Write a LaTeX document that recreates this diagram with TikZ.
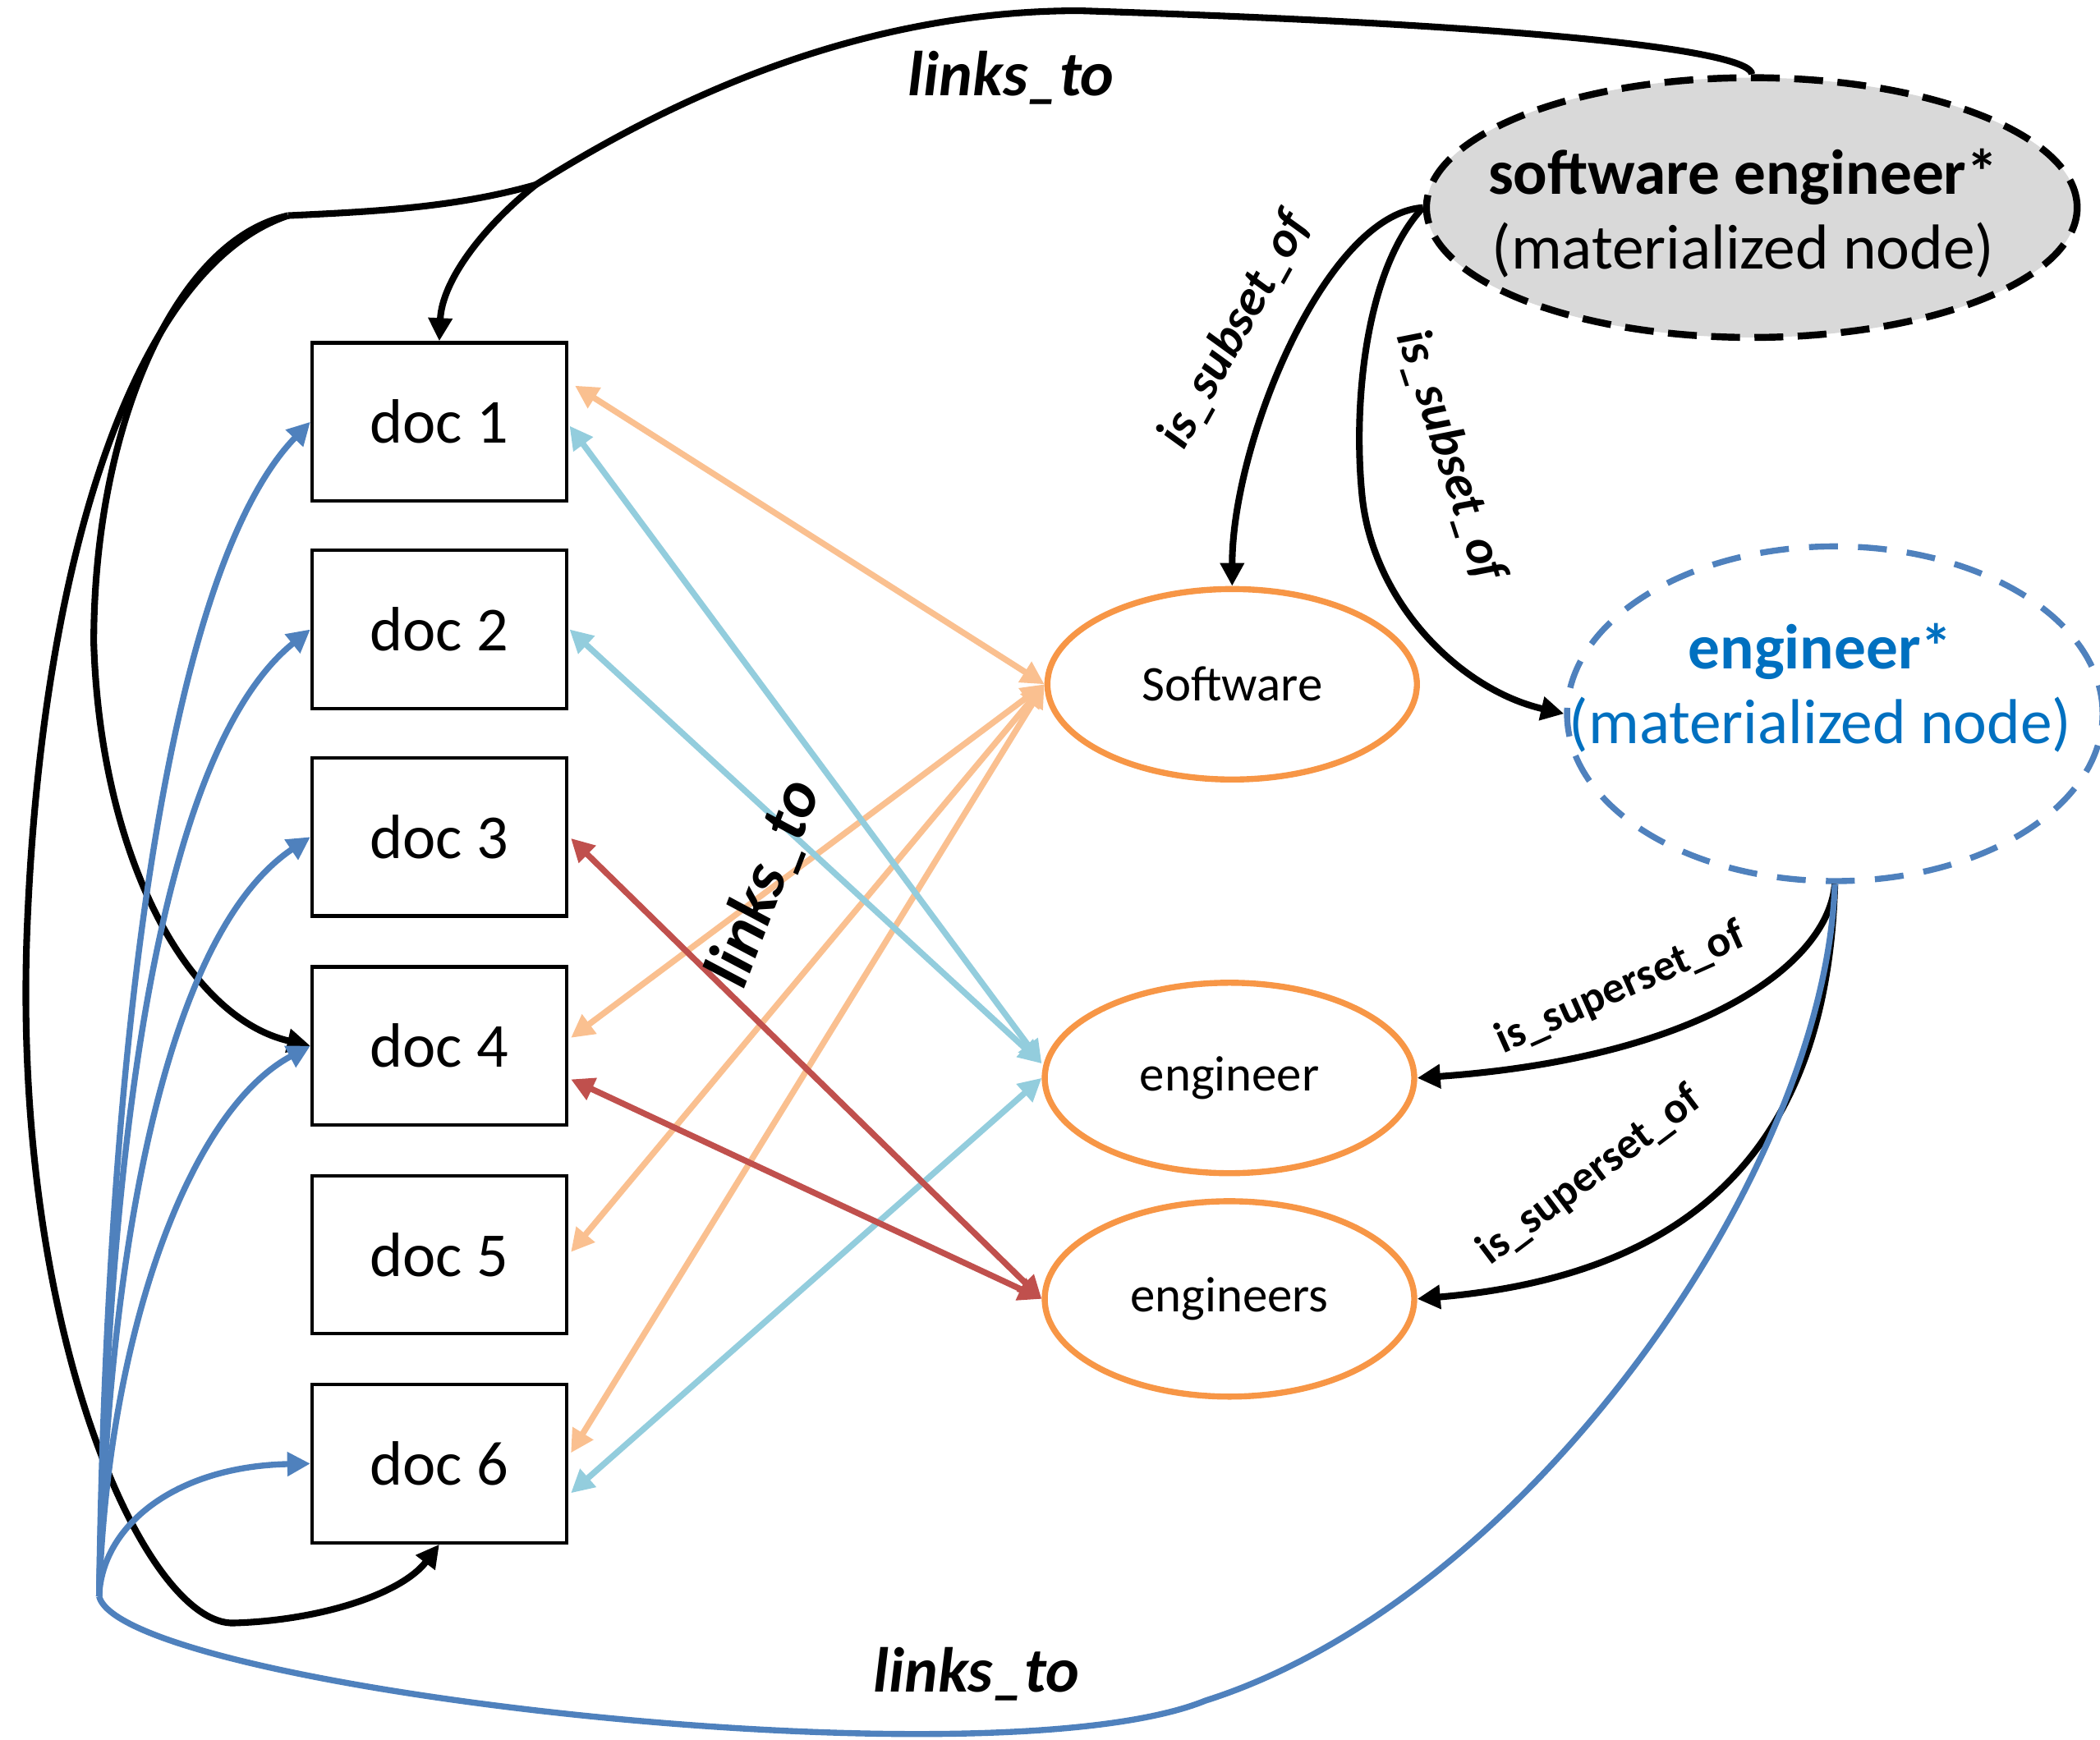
\documentclass[tikz,border=0pt]{standalone}
\usepackage{fontspec}
\setmainfont{Carlito}
\usetikzlibrary{shapes.geometric,arrows.meta}

\begin{document}
\begin{tikzpicture}[x=0.016307cm, y=-0.016307cm, >={Triangle[length=8pt,width=8pt]}]

% Colours
\definecolor{termcolor}{HTML}{F79646}
\definecolor{softcolor}{HTML}{FAC090}
\definecolor{engcolor}{HTML}{93CDDD}
\definecolor{engscolor}{HTML}{C0504D}
\definecolor{linkcolor}{HTML}{4F81BD}
\definecolor{mattext}{HTML}{0070C0}
\definecolor{matfill}{HTML}{D9D9D9}

% Styles
\tikzstyle{doc box}=[draw, line width=1.2pt, minimum width=3.098cm, minimum height=1.924cm, font=\fontsize{21.7}{26}\selectfont]
\tikzstyle{term node}=[draw=termcolor, ellipse, line width=2.1pt, minimum width=4.5cm, minimum height=2.32cm, font=\fontsize{17.3}{21}\selectfont]
\tikzstyle{mat node}=[ellipse, inner sep=0pt]
\tikzstyle{mat label}=[align=center, font=\fontsize{22}{26}\selectfont]
\tikzstyle{link line}=[black, line width=2.3pt]
\tikzstyle{blue line}=[linkcolor, line width=2.1pt]
\tikzstyle{pair line}=[line width=2.1pt, <->]
\tikzstyle{link text}=[font=\fontsize{22}{26}\selectfont\bfseries\itshape]
\tikzstyle{subset text}=[font=\fontsize{17.5}{21}\selectfont\bfseries\itshape]
\tikzstyle{superset text}=[font=\fontsize{15.3}{18}\selectfont\bfseries]

\useasboundingbox (0,0) rectangle (1568,1299);

% Documents
\foreach \i/\y in {1/315,2/470,3/625,4/781,5/937,6/1093}
  \node[doc box] (doc\i) at (328,\y) {doc \i};

% Terms
\node[term node] (software) at (920,511) {Software};
\node[term node] (engineer) at (918,805) {engineer};
\node[term node, minimum height=2.38cm] (engineers) at (918,970) {engineers};

% Materialized nodes
\node[mat node, fill=matfill, draw=black, dash pattern=on 10pt off 5pt, line width=2.4pt, minimum width=7.925cm, minimum height=3.164cm,
  label={[mat label, xshift=-3pt, yshift=-2pt]center:\textbf{software engineer*}\\(materialized node)}] (swe) at (1308,155) {};
\node[mat node, draw=linkcolor, dash pattern=on 10pt off 7pt, line width=2.1pt, minimum width=6.523cm, minimum height=4.077cm,
  label={[mat label, text=mattext, yshift=9pt, xshift=-5pt]center:\textbf{engineer*}\\(materialized node)}] (engstar) at (1370,533) {};

\coordinate (fork) at (400,138);
\coordinate (bend) at (215,161);
\coordinate (hub) at (74,1192);

% links_to from software engineer*
\draw[link line] (swe.north) .. controls (1308,40) and (1180,20) .. (806,8) .. controls (640,8) and (500,75) .. (fork);
\draw[link line, ->] (fork) .. controls (360,170) and (330,210) .. (doc1.north);
\draw[link line] (fork) .. controls (340,155) and (280,158) .. (bend);
\draw[link line, ->] (bend) .. controls (130,180) and (70,320) .. (70,480) .. controls (75,640) and (140,760) .. (doc4.west);
\draw[link line, ->] (bend) .. controls (100,200) and (30,420) .. (20,700) .. controls (10,1000) and (110,1215) .. (175,1212) .. controls (240,1210) and (300,1190) .. (doc6.south);

% is_subset_of
\draw[link line, ->] (swe.west) .. controls (990,160) and (920,330) .. (software.north);
\draw[link line, ->] (swe.west) .. controls (1020,200) and (1010,300) .. (1017,370) .. controls (1025,450) and (1090,515) .. (engstar.west);

% is_superset_of
\draw[link line, ->] (engstar.south) .. controls (1365,720) and (1270,790) .. (engineer.east);
\draw[link line, ->] (engstar.south) .. controls (1365,830) and (1290,950) .. (engineers.east);

% links_to from engineer*
\draw[blue line] (engstar.south) .. controls (1362,880) and (1137,1195) .. (900,1270) .. controls (740,1335) and (90,1260) .. (hub);
\draw[blue line, ->] (hub) .. controls (80,750) and (130,420) .. (doc1.west);
\draw[blue line, ->] (hub) .. controls (80,850) and (120,560) .. (doc2.west);
\draw[blue line, ->] (hub) .. controls (80,950) and (120,700) .. (doc3.west);
\draw[blue line, ->] (hub) .. controls (80,1000) and (140,830) .. (doc4.west);
\draw[blue line, ->] (hub) .. controls (76,1140) and (130,1095) .. (doc6.west);

% term links
\draw[pair line, softcolor] ([shift={(5,-27)}]doc1.east) -- (software.west);
\draw[pair line, softcolor] ([shift={(2,-6)}]doc4.east) -- (software.west);
\draw[pair line, softcolor] ([shift={(2,-2)}]doc5.east) -- (software.west);
\draw[pair line, softcolor] ([shift={(2,-8)}]doc6.east) -- (software.west);
\draw[pair line, engcolor] ([shift={(1,3)}]doc1.east) -- ([yshift=5pt]engineer.west);
\draw[pair line, engcolor] ([shift={(1,0)}]doc2.east) -- ([yshift=5pt]engineer.west);
\draw[pair line, engcolor] ([shift={(2,22)}]doc6.east) -- (engineer.west);
\draw[pair line, engscolor] ([shift={(2,1)}]doc3.east) -- (engineers.west);
\draw[pair line, engscolor] ([shift={(2,25)}]doc4.east) -- (engineers.west);

% Labels
\node[link text] (linkA) at (755,58) {links\_to};
\node[link text, font=\fontsize{23}{27}\selectfont\bfseries\itshape, rotate=69] (linkB) at (571,660) {links\_to};
\node[link text] (linkC) at (729,1250) {links\_to};
\node[subset text, rotate=61] (subA) at (922,247) {is\_subset\_of};
\node[subset text, rotate=-72] (subB) at (1083,340) {is\_subset\_of};
\node[superset text, rotate=24] (supA) at (1210,738) {is\_superset\_of};
\node[superset text, rotate=37] (supB) at (1187,878) {is\_superset\_of};

\end{tikzpicture}
\end{document}
